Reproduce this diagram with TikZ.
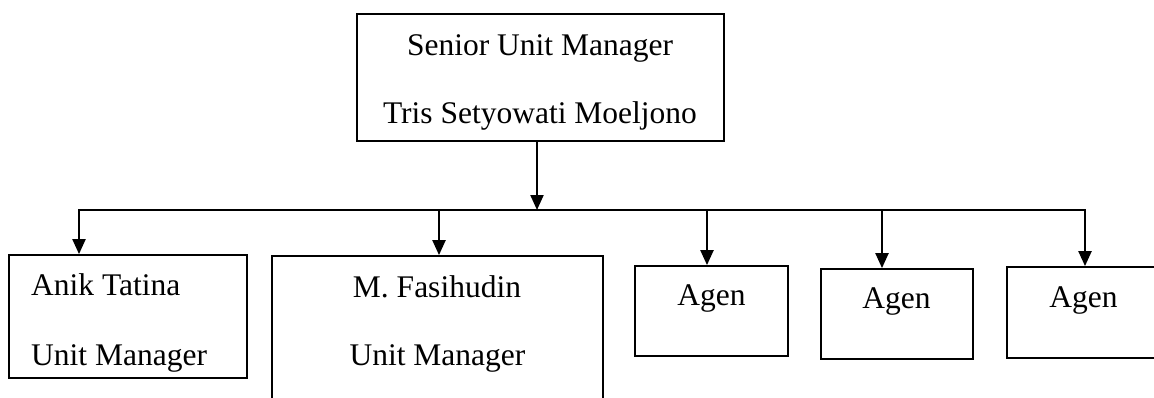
\documentclass[tikz,border=0pt]{standalone}
\usepackage{fontspec}
\setmainfont{Liberation Serif}
\usetikzlibrary{arrows.meta}
\begin{document}
\begin{tikzpicture}[x=1pt,y=-1pt,
  box/.style={draw, line width=1.8pt, inner sep=0pt},
  lbl/.style={anchor=base, inner sep=0pt, font=\fontsize{31.5}{38}\selectfont},
  conn/.style={line width=2.2pt},
  arr/.style={conn, -{Triangle[width=13pt,length=15pt]}}]
\useasboundingbox (0,0) rectangle (1154,397);
\clip (0,0) rectangle (1154,397);
% boxes
\node[box, minimum width=367pt, minimum height=127pt] (top) at (540.5,77.5) {};
\node[box, minimum width=238pt, minimum height=123pt] (b1) at (128,316.5) {};
\node[box, minimum width=331pt, minimum height=164pt] (b2) at (437.5,338) {};
\node[box, minimum width=153pt, minimum height=90pt] (b3) at (711.5,311) {};
\node[box, minimum width=152pt, minimum height=90pt] (b4) at (897,314) {};
\node[box, minimum width=173pt, minimum height=91pt] (b5) at (1093.5,312.5) {};
% labels
\node[lbl] (t1) at (540,55) {Senior Unit Manager};
\node[lbl] (t2) at (540,123) {Tris Setyowati Moeljono};
\node[lbl, anchor=base west] (a1) at (31,295) {Anik Tatina};
\node[lbl, anchor=base west] (a2) at (31,365) {Unit Manager};
\node[lbl] (m1) at (437,297) {M. Fasihudin};
\node[lbl] (m2) at (437.5,365) {Unit Manager};
\node[lbl] (g1) at (711.5,305) {Agen};
\node[lbl] (g2) at (896.5,308) {Agen};
\node[lbl] (g3) at (1083.5,307) {Agen};
% bus coordinates
\coordinate (j) at (537,210);
\coordinate (busL) at (79,210);
\coordinate (busR) at (1085,210);
\coordinate (k2) at (439,210);
\coordinate (k3) at (707,210);
\coordinate (k4) at (882,210);
% connectors
\draw[arr] (j |- top.south) -- (j);
\draw[arr] (j) -- (busL) -- (busL |- b1.north);
\draw[arr] (j) -- (busR) -- (busR |- b5.north);
\draw[arr] (k2) -- (k2 |- b2.north);
\draw[arr] (k3) -- (k3 |- b3.north);
\draw[arr] (k4) -- (k4 |- b4.north);
\end{tikzpicture}
\end{document}
